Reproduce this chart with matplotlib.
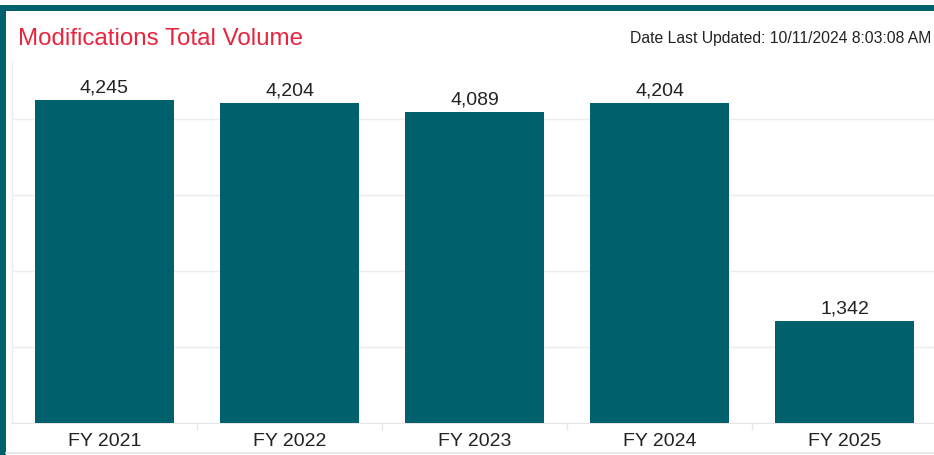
import matplotlib
matplotlib.use("Agg")
import matplotlib.pyplot as plt
from matplotlib.patches import Rectangle
from matplotlib.lines import Line2D

categories = ["FY 2021", "FY 2022", "FY 2023", "FY 2024", "FY 2025"]
values = [4245, 4204, 4089, 4204, 1342]
title = "Modifications Total Volume"
updated = "Date Last Updated: 10/11/2024 8:03:08 AM"

W, H = 934, 456
plt.rcParams['font.family'] = ['Liberation Sans', 'DejaVu Sans']
fig = plt.figure(figsize=(W / 100, H / 100), dpi=100)
fig.patch.set_facecolor("white")

teal = "#00606B"
# frame borders
fig.add_artist(Rectangle((0, 1 - 12 / H), 1, 6 / H, transform=fig.transFigure,
                         facecolor=teal, edgecolor="none"))
fig.add_artist(Rectangle((0, 0), 6 / W, 1 - 6 / H, transform=fig.transFigure,
                         facecolor=teal, edgecolor="none"))
fig.add_artist(Line2D([6 / W, 1], [2.5 / H, 2.5 / H], transform=fig.transFigure,
                      color="#e3e6e6", lw=1.2))

fig.text(18 / W, 1 - 39 / H, title, color="#E8253E", fontsize=17.4, va="center", ha="left")
fig.text(931 / W, 1 - 39 / H, updated, color="#222222", fontsize=11.3, va="center", ha="right")

ax_left, ax_right = 12, 937
ax_bottom, ax_top = 424, 62
ax = fig.add_axes([ax_left / W, 1 - ax_bottom / H, (ax_right - ax_left) / W, (ax_bottom - ax_top) / H])
ymax = (ax_bottom - ax_top) / (323 / 4245)
x = list(range(len(categories)))
bars = ax.bar(x, values, width=0.75, color=teal, zorder=3)
ax.set_xlim(-0.5, len(categories) - 0.5)
ax.set_ylim(0, ymax)
ax.set_yticks([1000, 2000, 3000, 4000])
ax.yaxis.grid(True, color="#ececec", lw=1, zorder=0)
ax.tick_params(axis="y", length=0, labelleft=False)
ax.set_xticks(x)
ax.set_xticklabels(categories, fontsize=14, color="#222222")
ax.tick_params(axis="x", length=0, pad=6.5)
ax.set_xticks([i + 0.5 for i in x[:-1]], minor=True)
ax.tick_params(axis="x", which="minor", length=5, color="#e6e6e6", width=1)
for s in ["top", "right"]:
    ax.spines[s].set_visible(False)
ax.spines["left"].set_color("#ececec")
ax.spines["bottom"].set_color("#e6e6e6")
for b, v in zip(bars, values):
    ax.annotate(f"{v:,}", (b.get_x() + b.get_width() / 2, v), xytext=(0, 3.2),
                textcoords="offset points", ha="center", va="bottom",
                fontsize=14, color="#222222")

fig.savefig("out.png", dpi=100, facecolor="white")
